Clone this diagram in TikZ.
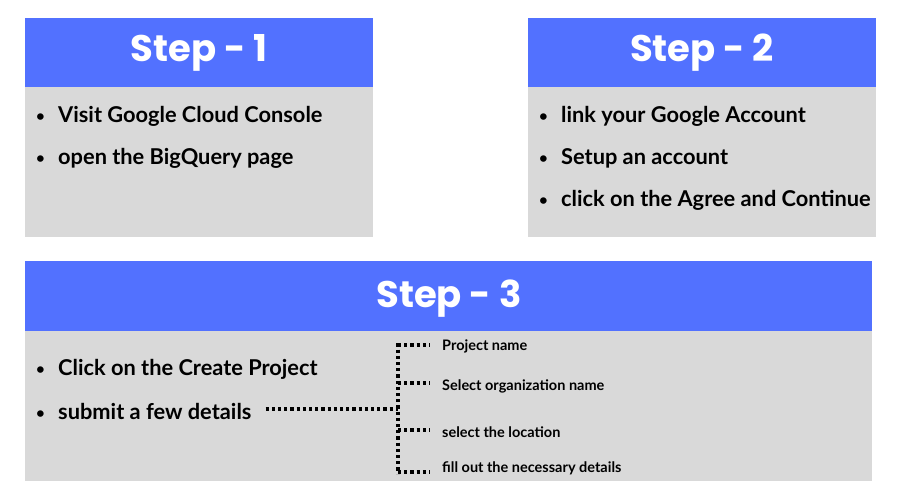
\documentclass[tikz,border=0pt]{standalone}
\usepackage{fontspec}
\newfontfamily\headfont{Poppins}
\newfontfamily\bodyfont{Lato}
\definecolor{stepblue}{HTML}{5271FF}
\definecolor{stepgray}{HTML}{D9D9D9}
\tikzset{
  header/.style={fill=stepblue, draw=none, text=white, font=\headfont\bfseries\fontsize{37}{40}\selectfont, inner sep=0pt},
  bodybox/.style={fill=stepgray, draw=none},
  item/.style={anchor=west, inner sep=0pt, font=\bodyfont\bfseries\fontsize{21.8}{24}\selectfont, text=black},
  sublabel/.style={anchor=west, inner sep=0pt, font=\bodyfont\bfseries\fontsize{14.5}{16}\selectfont, text=black},
  dots/.style={line width=3.2pt, dash pattern=on 3.2pt off 3pt, black}
}
\newcommand{\bul}{\makebox[22pt][l]{\raisebox{1pt}{\fontsize{15}{15}\selectfont\textbullet}}}
\begin{document}
\begin{tikzpicture}[x=1pt,y=-1pt]
\useasboundingbox (0,0) rectangle (900,500);
\fill[white] (0,0) rectangle (900,500);
% Step 1
\fill[bodybox] (25,87) rectangle (373,237);
\fill[stepblue] (25,18) rectangle (373,87);
\node[header] (h1) at (199,53) {Step - 1};
\node[item] (a1) at (36,116) {\bul Visit Google Cloud Console};
\node[item] (a2) at (36,158) {\bul open the BigQuery page};
% Step 2
\fill[bodybox] (528,87) rectangle (876,237);
\fill[stepblue] (528,18) rectangle (876,87);
\node[header] (h2) at (702,53) {Step - 2};
\node[item] (b1) at (539,116) {\bul link your Google Account};
\node[item] (b2) at (539,158) {\bul Setup an account};
\node[item] (b3) at (539,200) {\bul click on the Agree and Continue};
% Step 3
\fill[bodybox] (25,331) rectangle (872,481);
\fill[stepblue] (25,261) rectangle (872,331);
\node[header] (h3) at (449,299) {Step - 3};
\node[item] (c1) at (36,369) {\bul Click on the Create Project};
\node[item] (c2) at (36,411) {\bul submit a few details};
% sub labels
\node[sublabel] (s1) at (442,346) {Project name};
\node[sublabel] (s2) at (442,386) {Select organization name};
\node[sublabel] (s3) at (442,432) {select the location};
\node[sublabel] (s4) at (442,468) {fill out the necessary details};
% dotted connectors
\coordinate (j) at (398,409);
\coordinate (t1) at (398,345);
\coordinate (t2) at (398,383);
\coordinate (t3) at (398,430);
\coordinate (t4) at (398,472);
\draw[dots] ([xshift=14pt]c2.east |- j) -- (j);
\draw[dots] (398,343.4) -- (398,473.6);
\draw[dots] (t1) -- ([xshift=-12pt]s1.west |- t1);
\draw[dots] (t2) -- ([xshift=-12pt]s2.west |- t2);
\draw[dots] (t3) -- ([xshift=-12pt]s3.west |- t3);
\draw[dots] (t4) -- ([xshift=-12pt]s4.west |- t4);
\end{tikzpicture}
\end{document}
